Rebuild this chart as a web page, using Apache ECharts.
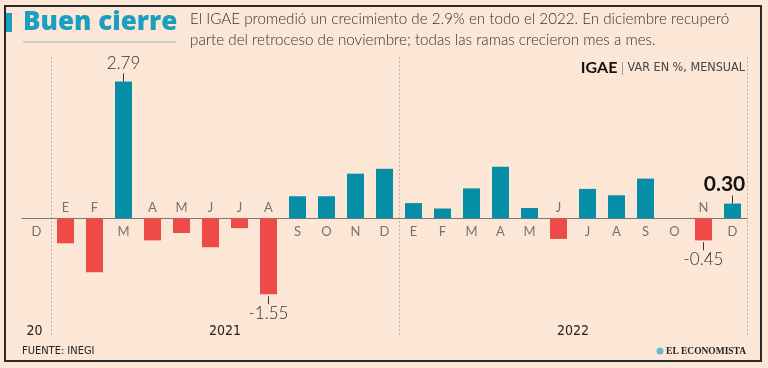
<!DOCTYPE html>
<html><head><meta charset="utf-8">
<script src="https://cdn.jsdelivr.net/npm/echarts@6/dist/echarts.min.js"></script>
<style>html,body{margin:0;padding:0;background:#fce6d6;}#c{width:768px;height:368px;}</style>
</head><body><div id="c"></div>
<script>
// ---- data ----
const months = ['D','E','F','M','A','M','J','J','A','S','O','N','D','E','F','M','A','M','J','J','A','S','O','N','D'];
const values = [0, -0.51, -1.10, 2.79, -0.45, -0.30, -0.59, -0.20, -1.55, 0.45, 0.45, 0.91, 1.01,
                0.31, 0.20, 0.61, 1.05, 0.21, -0.42, 0.60, 0.47, 0.81, 0, -0.45, 0.30];
const labeledIdx = [3, 8, 23, 24];
const highlightIdx = 24;
const years = ['20', '2021', '2022'];
const yearStart = [0, 1, 13];
const yearEnd = [0, 12, 24];
const yearBreaks = [1, 13];

const TEAL = '#078ea7', RED = '#ee4a48';
const FONT = 'Lato, "Open Sans", sans-serif';
const NARROW = '"Liberation Sans Narrow", "DejaVu Sans Condensed", "Roboto Condensed", sans-serif';

const chart = echarts.init(document.getElementById('c'), null, {renderer: 'canvas'});

const barData = values.map((v, i) => {
  const item = {value: v, itemStyle: {color: v < 0 ? RED : TEAL}};
  if (labeledIdx.includes(i)) {
    const txt = v.toFixed(2);
    const bold = i === highlightIdx;
    item.label = {
      show: true,
      position: v < 0 ? 'bottom' : 'top',
      distance: v < 0 ? 2 : 0,
      formatter: v < 0 ? '{t|}\n{' + (bold ? 'b' : 'v') + '|' + txt + '}'
                       : '{' + (bold ? 'b' : 'v') + '|' + txt + '}\n{t|}',
      rich: {
        v: {fontFamily: FONT, fontSize: 17, color: '#333', lineHeight: 19, fontWeight: 300},
        b: {fontFamily: FONT, fontSize: 21, color: '#111', lineHeight: 22, fontWeight: 'bold', padding: [0, 16, 0, 0]},
        t: {width: 1, height: 8, backgroundColor: '#333'}
      }
    };
  }
  return item;
});

const monthData = months.map((m, i) => ({
  value: [i, 0],
  name: m,
  label: {
    show: true,
    position: values[i] < 0 ? 'top' : 'bottom',
    distance: values[i] < 0 ? 3 : 7,
    formatter: m,
    fontFamily: FONT, fontSize: 13, color: '#555'
  }
}));

chart.setOption({
  backgroundColor: '#fce6d6',
  animation: false,
  grid: {left: 22, right: 21, top: 57, bottom: 33, containLabel: false},
  xAxis: {
    type: 'category', data: months.map((m, i) => i), boundaryGap: true,
    axisLine: {show: true, onZero: true, lineStyle: {color: '#777', width: 1}},
    axisTick: {show: false}, axisLabel: {show: false},
    splitLine: {show: true, interval: (idx) => yearBreaks.includes(idx),
                lineStyle: {color: '#b9b0a8', width: 1, type: [2, 2]}}
  },
  yAxis: {
    type: 'value', min: -2.38, max: 3.29, show: false,
    splitLine: {show: false}
  },
  series: [
    {type: 'bar', data: barData, barWidth: 17, z: 3},
    {type: 'scatter', data: monthData, symbolSize: 1, itemStyle: {color: 'rgba(0,0,0,0)'}, z: 4, silent: true}
  ],
  graphic: []
});

// decorations and year labels
const g = [];
g.push({type: 'rect', shape: {x: 5, y: 6, width: 756, height: 355}, style: {fill: 'none', stroke: '#2a2a2a', lineWidth: 2}, z: 10});
g.push({type: 'rect', shape: {x: 6, y: 13, width: 6, height: 19}, style: {fill: '#1a9fc0'}});
g.push({type: 'text', x: 23, y: 23, style: {text: 'Buen cierre', fill: '#1a9fc0', font: '800 26px "Open Sans", ' + FONT, textVerticalAlign: 'middle'}});
g.push({type: 'line', shape: {x1: 23, y1: 42, x2: 176, y2: 42}, style: {stroke: '#8cc4cb', lineWidth: 1}});
g.push({type: 'text', x: 190, y: 19, style: {text: 'El IGAE promedió un crecimiento de 2.9% en todo el 2022. En diciembre recuperó', fill: '#333', font: '300 15.2px ' + FONT, textVerticalAlign: 'middle'}});
g.push({type: 'text', x: 190, y: 40, style: {text: 'parte del retroceso de noviembre; todas las ramas crecieron mes a mes.', fill: '#333', font: '300 15.2px ' + FONT, textVerticalAlign: 'middle'}});
g.push({type: 'text', x: 745, y: 68, style: {
  text: '{a|IGAE} {p||} {c|VAR EN %, MENSUAL}', align: 'right', verticalAlign: 'middle',
  rich: {
    a: {fontFamily: FONT, fontWeight: 'bold', fontSize: 16, fill: '#111'},
    p: {fontFamily: FONT, fontSize: 14, fill: '#999'},
    c: {fontFamily: NARROW, fontSize: 12.5, fill: '#444'}
  }}});
g.push({type: 'text', x: 22, y: 351, style: {text: 'FUENTE: INEGI', fill: '#222', font: '11px ' + NARROW, textVerticalAlign: 'middle'}});
g.push({type: 'circle', shape: {cx: 660, cy: 351, r: 3.5}, style: {fill: '#6fb6cc'}});
g.push({type: 'text', x: 746, y: 351, scaleX: 0.9, originX: 0, originY: 0, style: {text: 'EL ECONOMISTA', fill: '#222', font: 'bold 10.5px "Liberation Serif", serif', align: 'right', verticalAlign: 'middle'}});

years.forEach((y, k) => {
  const p1 = chart.convertToPixel({gridIndex: 0}, [yearStart[k], 0]);
  const p2 = chart.convertToPixel({gridIndex: 0}, [yearEnd[k], 0]);
  const cx = k === 0 ? p1[0] - 2 : (p1[0] + p2[0]) / 2;
  g.push({type: 'text', x: cx, y: 331, style: {text: y, fill: '#222', font: '14px ' + NARROW, align: 'center', verticalAlign: 'middle'}});
});

chart.setOption({graphic: g});
</script></body></html>
